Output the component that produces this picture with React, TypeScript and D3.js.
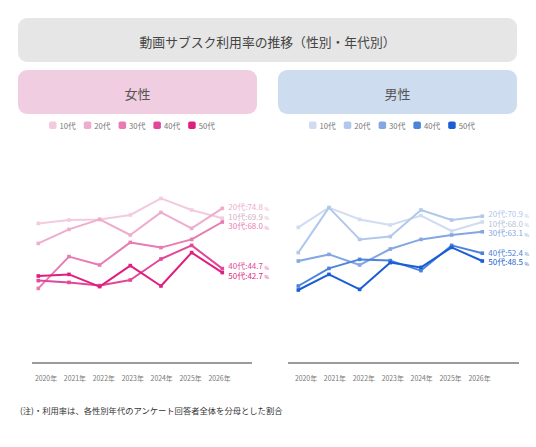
import React from "react";
import * as d3 from "d3";

const years = ["2020年", "2021年", "2022年", "2023年", "2024年", "2025年", "2026年"];
const ageGroups = ["10代", "20代", "30代", "40代", "50代"];

const female10s = [67.3, 69.0, 69.3, 71.5, 79.8, 74.0, 69.9];
const female20s = [57.3, 64.3, 69.3, 61.5, 72.8, 64.8, 74.8];
const female30s = [34.8, 50.7, 46.5, 57.8, 55.2, 59.3, 68.0];
const female40s = [38.7, 37.8, 36.2, 39.0, 49.5, 56.3, 44.7];
const female50s = [41.0, 41.8, 35.7, 46.2, 36.0, 52.7, 42.7];

const male10s = [65.3, 75.2, 69.3, 66.5, 71.2, 63.5, 68.0];
const male20s = [52.7, 75.2, 59.3, 60.7, 74.0, 69.0, 70.9];
const male30s = [48.5, 51.8, 46.5, 54.5, 59.3, 61.5, 63.1];
const male40s = [36.0, 44.8, 49.3, 48.7, 43.7, 56.3, 52.4];
const male50s = [34.0, 41.8, 34.3, 47.7, 45.3, 55.3, 48.5];

const femaleColors = ["#f3cade", "#eeadcd", "#e87cb2", "#e2489a", "#df1f80"];
const maleColors = ["#cfdcf1", "#b1c8ec", "#84a7e4", "#4c83da", "#1a5ed5"];

const title = "動画サブスク利用率の推移（性別・年代別）";
const footnote = "(注)・利用率は、各性別年代のアンケート回答者全体を分母とした割合";

const FONT = "'Noto Sans CJK JP', 'Noto Sans', sans-serif";

function spread(items: { y: number; i: number }[], gap: number) {
  const sorted = [...items].sort((a, b) => a.y - b.y);
  type Cl = { members: { y: number; i: number }[]; top: number };
  const clusters: Cl[] = sorted.map((m) => ({ members: [m], top: m.y }));
  let changed = true;
  while (changed) {
    changed = false;
    clusters.forEach((c) => {
      const mean = d3.mean(c.members, (m) => m.y) as number;
      c.top = mean - ((c.members.length - 1) * gap) / 2;
    });
    for (let k = 0; k < clusters.length - 1; k++) {
      const a = clusters[k];
      const b = clusters[k + 1];
      const aBottom = a.top + (a.members.length - 1) * gap;
      if (b.top - aBottom < gap) {
        a.members = a.members.concat(b.members);
        clusters.splice(k + 1, 1);
        changed = true;
        break;
      }
    }
  }
  const out: Record<number, number> = {};
  clusters.forEach((c) => {
    const mean = d3.mean(c.members, (m) => m.y) as number;
    const top = mean - ((c.members.length - 1) * gap) / 2;
    c.members.forEach((m, j) => (out[m.i] = top + j * gap));
  });
  return out;
}

function Panel({
  offset,
  boxX,
  series,
  colors,
  label,
  boxColor,
}: {
  offset: number;
  boxX: number;
  series: number[][];
  colors: string[];
  label: string;
  boxColor: string;
}) {
  const x = d3.scalePoint<string>().domain(years).range([38.3 + offset, 222.3 + offset]);
  const xLabel = d3.scalePoint<string>().domain(years).range([46 + offset, 219.5 + offset]);
  const y = d3.scaleLinear().domain([0, 100]).range([358, 158]);
  const line = d3
    .line<number>()
    .x((_, i) => x(years[i]) as number)
    .y((d) => y(d));

  const lastX = x(years[years.length - 1]) as number;
  const labelY = spread(
    series.map((s, i) => ({ y: y(s[s.length - 1]), i })),
    9.5
  );

  const legendStart = offset === 0 ? 49 : 309;
  const legendStep = 34.8;
  const boxW = 239;

  return (
    <g>
      <rect x={boxX} y={70} width={boxW} height={44} rx={9} fill={boxColor} />
      <text
        x={boxX + boxW / 2}
        y={93}
        textAnchor="middle"
        dominantBaseline="central"
        fontSize={13}
        fill="#555"
      >
        {label}
      </text>
      {ageGroups.map((g, i) => (
        <g key={g}>
          <rect
            x={legendStart + i * legendStep}
            y={121.5}
            width={7.5}
            height={7.5}
            rx={1.8}
            fill={colors[i]}
          />
          <text
            x={legendStart + i * legendStep + 10.5}
            y={125.5}
            dominantBaseline="central"
            fontSize={7.7}
            fill="#777"
          >
            {g}
          </text>
        </g>
      ))}
      {series.map((s, i) => (
        <g key={i}>
          <path d={line(s) as string} fill="none" stroke={colors[i]} strokeWidth={2} strokeLinejoin="round" />
          {s.map((v, j) => (
            <rect
              key={j}
              x={(x(years[j]) as number) - 1.8}
              y={y(v) - 1.8}
              width={3.6}
              height={3.6}
              fill={colors[i]}
            />
          ))}
        </g>
      ))}
      {series.map((s, i) => {
        const c = d3.color(colors[i]) as d3.RGBColor;
        const col = i === 0 ? (c.darker(0.35) as any).formatHex() : colors[i];
        return (
          <text
            key={"l" + i}
            x={lastX + 6}
            y={labelY[i]}
            dominantBaseline="central"
            fontSize={8}
            fill={col}
          >
            {ageGroups[i]}:{s[s.length - 1].toFixed(1)}
            <tspan fontSize={5} dx={1.5} dy={1}>
              %
            </tspan>
          </text>
        );
      })}
      <line
        x1={offset === 0 ? 32 : 288}
        x2={offset === 0 ? 252 : 519}
        y1={363}
        y2={363}
        stroke="#7a7a7a"
        strokeWidth={1.4}
      />
      {years.map((yr) => (
        <text
          key={yr}
          x={xLabel(yr)}
          y={378}
          textAnchor="middle"
          dominantBaseline="central"
          fontSize={6.9}
          fill="#777"
        >
          {yr}
        </text>
      ))}
    </g>
  );
}

export default function App() {
  return (
    <div style={{ position: "absolute", left: 0, top: 0 }}>
      <svg width={536} height={447} style={{ display: "block", fontFamily: FONT, background: "#fff" }}>
        <rect x={18} y={18} width={499} height={44} rx={9} fill="#e6e6e6" />
        <text x={267.5} y={41.5} textAnchor="middle" dominantBaseline="central" fontSize={12.8} fill="#444">
          {title}
        </text>
        <Panel
          offset={0}
          boxX={18}
          series={[female10s, female20s, female30s, female40s, female50s]}
          colors={femaleColors}
          label="女性"
          boxColor="#f0cde0"
        />
        <Panel
          offset={260}
          boxX={278}
          series={[male10s, male20s, male30s, male40s, male50s]}
          colors={maleColors}
          label="男性"
          boxColor="#cddcee"
        />
        <text x={20} y={410} dominantBaseline="central" fontSize={8.3} fill="#333">
          {footnote}
        </text>
      </svg>
    </div>
  );
}
